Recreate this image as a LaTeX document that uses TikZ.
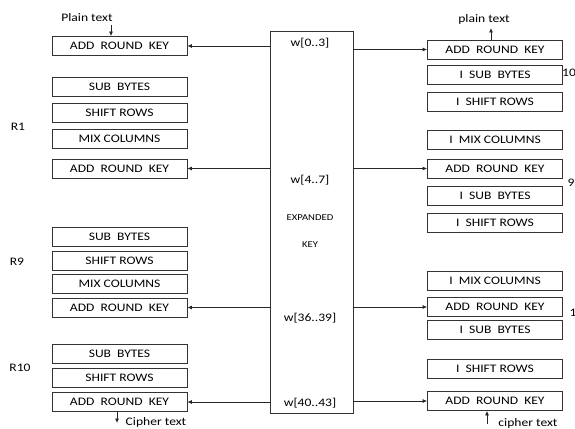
\documentclass[tikz,border=0pt]{standalone}
\usepackage{fontspec}
\setmainfont[FakeStretch=1.18]{Carlito}
\usetikzlibrary{arrows.meta,positioning,calc}

\begin{document}
\begin{tikzpicture}[x=1pt, y=-1pt,
    stage/.style={draw=black!80, line width=0.75pt, minimum width=135pt, minimum height=19pt,
      inner sep=0pt, font=\fontsize{11.5}{13}\selectfont},
    keybox/.style={draw=black!80, line width=0.75pt, minimum width=83pt, minimum height=382pt, inner sep=0pt},
    lbl/.style={font=\fontsize{11.5}{13}\selectfont, inner sep=1pt},
    small/.style={font=\fontsize{9}{10}\selectfont, inner sep=1pt},
    arr/.style={-{Latex[length=4.5pt,width=4pt]}, line width=0.75pt, draw=black!85}
  ]
    \useasboundingbox (0,0) rectangle (575,428);

    % expanded key in the middle
    \node[keybox] (key) at (311.5,222) {};
    \node[lbl] (w0) at (310,43) {w[0..3]};
    \node[lbl] (w4) at (310,180) {w[4..7]};
    \node[small] (exp) at (310,218) {EXPANDED};
    \node[small] (kk) at (310,245) {KEY};
    \node[lbl] (w36) at (310,318) {w[36..39]};
    \node[lbl] (w40) at (310,403) {w[40..43]};

    % encryption side
    \node[stage] (lark1) at (119.5,46) {ADD\ \ ROUND\ \ KEY};
    \node[stage] (lsub1) at (119.5,86.5) {SUB\ \ BYTES};
    \node[stage] (lshift1) at (119.5,112.5) {SHIFT ROWS};
    \node[stage] (lmix1) at (119.5,139) {MIX COLUMNS};
    \node[stage] (lark2) at (119.5,168.5) {ADD\ \ ROUND\ \ KEY};
    \node[stage] (lsub9) at (119.5,236.5) {SUB\ \ BYTES};
    \node[stage] (lshift9) at (119.5,261) {SHIFT ROWS};
    \node[stage] (lmix9) at (119.5,283.5) {MIX COLUMNS};
    \node[stage] (lark9) at (119.5,307.5) {ADD\ \ ROUND\ \ KEY};
    \node[stage] (lsub10) at (119.5,354) {SUB\ \ BYTES};
    \node[stage] (lshift10) at (119.5,378) {SHIFT ROWS};
    \node[stage] (lark10) at (119.5,402) {ADD\ \ ROUND\ \ KEY};

    \node[lbl] (r1) at (18,127) {R1};
    \node[lbl] (r9) at (17,262) {R9};
    \node[lbl] (r10) at (20,368) {R10};

    % decryption side
    \node[stage] (rark1) at (495,49.5) {ADD\ \ ROUND\ \ KEY};
    \node[stage] (rsub1) at (495,74.5) {I\ \ SUB\ \ BYTES};
    \node[stage] (rshift1) at (495,101.5) {I\ \ SHIFT ROWS};
    \node[stage] (rmix1) at (495,139.5) {I\ \ MIX COLUMNS};
    \node[stage] (rark2) at (495,168.5) {ADD\ \ ROUND\ \ KEY};
    \node[stage] (rsub2) at (495,195.5) {I\ \ SUB\ \ BYTES};
    \node[stage] (rshift2) at (495,222.5) {I\ \ SHIFT ROWS};
    \node[stage] (rmix3) at (495,281) {I\ \ MIX COLUMNS};
    \node[stage] (rark3) at (495,307) {ADD\ \ ROUND\ \ KEY};
    \node[stage] (rsub3) at (495,330) {I\ \ SUB\ \ BYTES};
    \node[stage] (rshift3) at (495,368.5) {I\ \ SHIFT ROWS};
    \node[stage] (rark4) at (495,401) {ADD\ \ ROUND\ \ KEY};

    \node[lbl] (n10) at (569,73) {10};
    \node[lbl] (n9) at (571,183) {9};
    \node[lbl] (n1) at (573,313) {1};

    % plain and cipher text
    \node[lbl] (ptin) at (87,18) {Plain text};
    \node[lbl] (ptout) at (484,19) {plain text};
    \node[lbl] (ctout) at (156,422) {Cipher text};
    \node[lbl] (ctin) at (528,423) {cipher text};
    \coordinate (ptinend) at (111,25);
    \coordinate (ptoutend) at (491,28);
    \coordinate (ctoutend) at (117,423);
    \coordinate (ctinend) at (487,424);

    \draw[arr] (ptinend) -- (ptinend |- lark1.north);
    \draw[arr] (ptoutend |- rark1.north) -- (ptoutend);
    \draw[arr] (ctoutend |- lark10.south) -- (ctoutend);
    \draw[arr] (ctinend) -- (ctinend |- rark4.south);

    % round keys
    \foreach \k in {lark1,lark2,lark9,lark10}
      \draw[arr] (key.west |- \k) -- (\k.east);
    \foreach \k in {rark1,rark2,rark3,rark4}
      \draw[arr] (key.east |- \k) -- (\k.west);
\end{tikzpicture}
\end{document}
